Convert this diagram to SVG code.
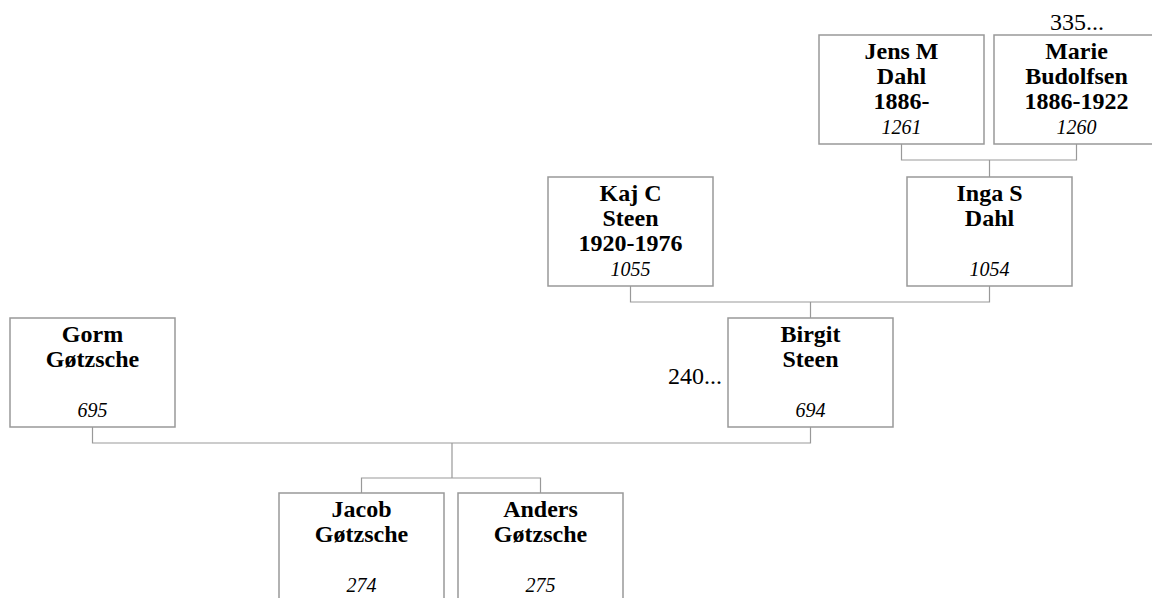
<svg xmlns="http://www.w3.org/2000/svg" width="1152" height="598" viewBox="0 0 1152 598">
<style>
.box{fill:#fff;stroke:#999;stroke-width:1.5}
.nm{font-family:"Liberation Serif","Times New Roman",serif;font-weight:bold;font-size:24px;text-anchor:middle;fill:#000}
.id{font-family:"Liberation Serif","Times New Roman",serif;font-style:italic;font-size:20px;text-anchor:middle;fill:#000}
.more{font-family:"Liberation Serif","Times New Roman",serif;font-size:24px;fill:#000}
.con{fill:none;stroke:#999;stroke-width:1.2}
</style>
<rect width="1152" height="598" fill="#fff"/>
<g id="connectors">
<path class="con" d="M901.5,144 V160 H1076.5 V144 M989.5,160 V177"/>
<path class="con" d="M630.5,286 V302 H989.5 V286 M810.5,302 V318"/>
<path class="con" d="M92.5,427 V443 H810.5 V427 M452,443 V478"/>
<path class="con" d="M361.5,493 V478 H540.5 V493"/>
</g>
<g id="n1261">
<rect class="box" x="819" y="35" width="165" height="109"/>
<text class="nm" x="901.5" y="59">Jens M</text>
<text class="nm" x="901.5" y="84">Dahl</text>
<text class="nm" x="901.5" y="109">1886-</text>
<text class="id" x="901.5" y="134">1261</text>
</g>
<g id="n1260">
<rect class="box" x="994" y="35" width="165" height="109"/>
<text class="more" x="1050" y="30">335...</text>
<text class="nm" x="1076.5" y="59">Marie</text>
<text class="nm" x="1076.5" y="84">Budolfsen</text>
<text class="nm" x="1076.5" y="109">1886-1922</text>
<text class="id" x="1076.5" y="134">1260</text>
</g>
<g id="n1055">
<rect class="box" x="548" y="177" width="165" height="109"/>
<text class="nm" x="630.5" y="201">Kaj C</text>
<text class="nm" x="630.5" y="226">Steen</text>
<text class="nm" x="630.5" y="251">1920-1976</text>
<text class="id" x="630.5" y="276">1055</text>
</g>
<g id="n1054">
<rect class="box" x="907" y="177" width="165" height="109"/>
<text class="nm" x="989.5" y="201">Inga S</text>
<text class="nm" x="989.5" y="226">Dahl</text>
<text class="id" x="989.5" y="276">1054</text>
</g>
<g id="n695">
<rect class="box" x="10" y="318" width="165" height="109"/>
<text class="nm" x="92.5" y="342">Gorm</text>
<text class="nm" x="92.5" y="367">Gøtzsche</text>
<text class="id" x="92.5" y="417">695</text>
</g>
<g id="n694">
<rect class="box" x="728" y="318" width="165" height="109"/>
<text class="more" x="668" y="384">240...</text>
<text class="nm" x="810.5" y="342">Birgit</text>
<text class="nm" x="810.5" y="367">Steen</text>
<text class="id" x="810.5" y="417">694</text>
</g>
<g id="n274">
<rect class="box" x="279" y="493" width="165" height="109"/>
<text class="nm" x="361.5" y="517">Jacob</text>
<text class="nm" x="361.5" y="542">Gøtzsche</text>
<text class="id" x="361.5" y="592">274</text>
</g>
<g id="n275">
<rect class="box" x="458" y="493" width="165" height="109"/>
<text class="nm" x="540.5" y="517">Anders</text>
<text class="nm" x="540.5" y="542">Gøtzsche</text>
<text class="id" x="540.5" y="592">275</text>
</g>
</svg>
